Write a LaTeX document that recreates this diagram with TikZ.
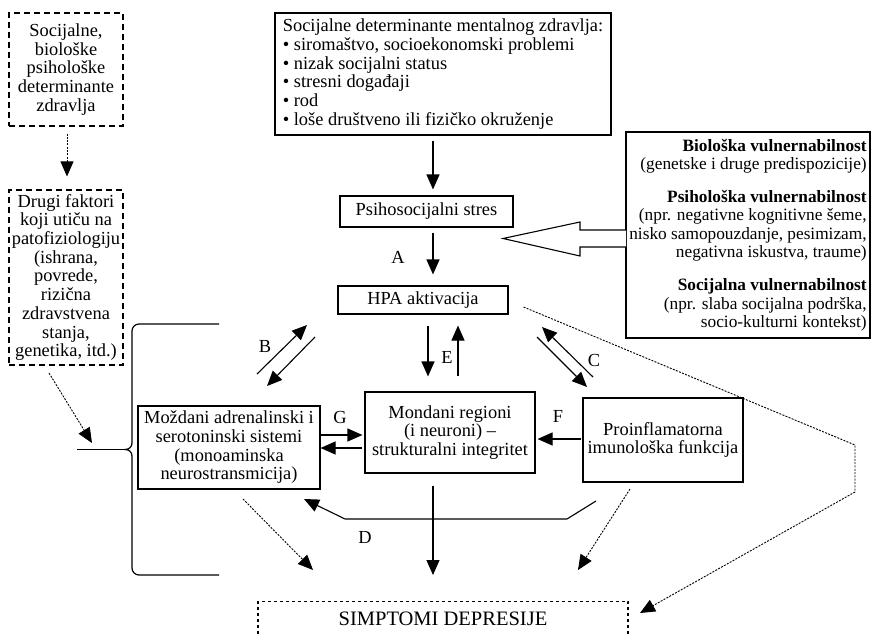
\documentclass[tikz,border=0pt]{standalone}
\usepackage{fontspec}
\setmainfont{Liberation Serif}
\usetikzlibrary{arrows.meta}
\begin{document}
\begin{tikzpicture}[x=1pt,y=-1pt,
  every node/.style={font=\fontsize{18.4}{18.7}\selectfont},
  box/.style={draw, line width=1.1pt, inner sep=2pt},
  dbox/.style={box, dash pattern=on 6pt off 4pt},
  arr/.style={line width=1.1pt, -{Triangle[length=15pt,width=13pt]}},
  darr/.style={line width=0.9pt, dash pattern=on 2pt off 1.3pt, -{Triangle[length=15pt,width=13pt]}},
  brace/.style={line width=1.2pt},
  lab/.style={inner sep=0pt}
]
\useasboundingbox (0,0) rectangle (871,637);

% boxes
\node[box, align=left, minimum width=336pt, minimum height=122pt] (top) at (443,74)
  {Socijalne determinante mentalnog zdravlja:\\• siromaštvo, socioekonomski problemi\\• nizak socijalni status\\• stresni događaji\\• rod\\• loše društveno ili fizičko okruženje};
\node[box, minimum width=173pt, minimum height=31pt] (psiho) at (426.5,211.5) {Psihosocijalni stres};
\node[box, minimum width=170pt, minimum height=28pt] (hpa) at (423,300) {HPA aktivacija};
\node[box, align=right, inner xsep=0.5pt, minimum width=244pt, minimum height=206pt,
  font=\fontsize{17.3}{18.3}\selectfont] (vuln) at (748,235)
  {\textbf{Biološka vulnernabilnost}\\(genetske i druge predispozicije)\\[15pt]
   \textbf{Psihološka vulnernabilnost}\\(npr. negativne kognitivne šeme,\\nisko samopouzdanje, pesimizam,\\negativna iskustva, traume)\\[15pt]
   \textbf{Socijalna vulnernabilnost}\\(npr. slaba socijalna podrška,\\socio-kulturni kontekst)};
\node[dbox, align=center, minimum width=114pt, minimum height=113pt] (soc) at (66,69.5)
  {Socijalne,\\biološke\\psihološke\\determinante\\zdravlja};
\node[dbox, align=center, minimum width=114pt, minimum height=175pt] (drugi) at (66,277.5)
  {Drugi faktori\\koji utiču na\\patofiziologiju\\(ishrana,\\povrede,\\rizična\\zdravstvena\\stanja,\\genetika, itd.)};
\node[box, align=center, minimum width=182pt, minimum height=83pt] (mozd) at (229,447.5)
  {Moždani adrenalinski i\\serotoninski sistemi\\(monoaminska\\neurostransmicija)};
\node[box, align=center, minimum width=170pt, minimum height=81pt] (mond) at (450,432.5)
  {Mondani regioni\\(i neuroni) –\\strukturalni integritet};
\node[box, align=center, minimum width=160pt, minimum height=84pt] (proi) at (663,440)
  {Proinflamatorna\\imunološka funkcija};
\node[draw, line width=1.1pt, dash pattern=on 3pt off 3pt, anchor=north, minimum width=370pt,
  inner ysep=10pt, text depth=25pt, font=\fontsize{20.5}{20.5}\selectfont] (simp) at (443,601) {SIMPTOMI DEPRESIJE};

% labels
\node[lab] (lA) at (398,257) {A};
\node[lab] (lB) at (265,346) {B};
\node[lab] (lC) at (594,360) {C};
\node[lab] (lD) at (365,537) {D};
\node[lab] (lE) at (447,357) {E};
\node[lab] (lF) at (558,416) {F};
\node[lab] (lG) at (340,417) {G};

% coordinates for free connector ends
\coordinate (b1s) at (257,374); \coordinate (b1e) at (307,325);
\coordinate (b2s) at (315,337); \coordinate (b2e) at (267,386);
\coordinate (c1s) at (537,337); \coordinate (c1e) at (587,387);
\coordinate (c2s) at (593,377); \coordinate (c2e) at (542,327);
\coordinate (d0) at (596,501); \coordinate (d1) at (567,519);
\coordinate (d2) at (345,519); \coordinate (d3) at (304,499);
\coordinate (l0) at (243,499); \coordinate (l1) at (313,570);
\coordinate (r0) at (630,489); \coordinate (r1) at (578,570);
\coordinate (h1) at (855,445); \coordinate (h2) at (855,492); \coordinate (h3) at (640,613);
\coordinate (k0) at (49,373); \coordinate (k1) at (92,443);

% solid connectors
\draw[arr] ([xshift=-10pt,yshift=-5pt]top.south) -- ([xshift=6.5pt,yshift=6pt]psiho.north);
\draw[arr] ([xshift=6.5pt,yshift=-5pt]psiho.south) -- ([xshift=10pt,yshift=11pt]hpa.north);
\draw[arr] ([xshift=5pt,yshift=-11pt]hpa.south) -- ([xshift=-22pt,yshift=15pt]mond.north);
\draw[arr] ([xshift=8pt,yshift=15pt]mond.north) -- ([xshift=35pt,yshift=-11pt]hpa.south);
\draw[arr] ([yshift=12.5pt]mozd.east) -- ([xshift=-2pt,yshift=-2.5pt]mond.west);
\draw[arr] ([xshift=-2pt,yshift=-15.5pt]mond.west) -- ([yshift=-0.5pt]mozd.east);
\draw[arr] ([xshift=-1pt,yshift=1pt]proi.west) -- ([xshift=2pt,yshift=-6.5pt]mond.east);
\draw[arr] ([xshift=-17pt,yshift=-12pt]mond.south) -- ([xshift=-10pt,yshift=26pt]simp.north);
\draw[arr] (b1s) -- (b1e);
\draw[arr] (b2s) -- (b2e);
\draw[arr] (c1s) -- (c1e);
\draw[arr] (c2s) -- (c2e);
\draw[arr] (d0) -- (d1) -- (d2) -- (d3);

% dotted connectors
\draw[darr] ([xshift=1pt,yshift=-7pt]soc.south) -- ([xshift=1pt,yshift=13pt]drugi.north);
\draw[darr] (k0) -- (k1);
\draw[darr] (l0) -- (l1);
\draw[darr] (r0) -- (r1);
\draw[darr] ([xshift=15pt,yshift=-7pt]hpa.east) -- (h1) -- (h2) -- (h3);

% hollow arrow
\draw[line width=1.1pt, fill=white] (626,230) -- (580,230) -- (580,222) -- (503,238.5) -- (580,256) -- (580,247) -- (626,247);

% brace
\draw[brace, rounded corners=7pt] (219,324) -- (132,324) -- (132,443);
\draw[brace] (132,443) .. controls (132,447) and (129,449.5) .. (125,449.5) .. controls (129,449.5) and (132,452) .. (132,456);
\draw[brace, rounded corners=7pt] (132,456) -- (132,575) -- (219,575);
\draw[brace] (77,449.5) -- (125,449.5);
\end{tikzpicture}
\end{document}
